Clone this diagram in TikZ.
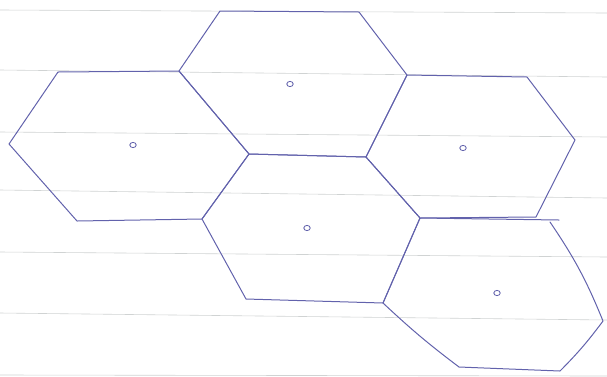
\documentclass[tikz,border=0pt]{standalone}
\definecolor{penblue}{RGB}{98,98,172}
\definecolor{rulegray}{RGB}{208,211,211}
\tikzset{
  pen/.style={draw=penblue, line width=1pt, line join=round, line cap=round},
  ruling/.style={draw=rulegray, line width=0.6pt},
  centredot/.style={draw=penblue, line width=0.8pt}
}

\begin{document}
\begin{tikzpicture}[x=1pt, y=-1pt]
  \useasboundingbox (0,0) rectangle (607,376);

  % ruled paper
  \foreach \yl/\yr in {10/13, 70/77, 132/137, 190/198, 252/257, 313/320, 375/376}
    \draw[ruling] (0,\yl) -- (607,\yr);

  % shared corners
  \coordinate (ab) at (179,71);
  \coordinate (bc) at (407,75);
  \coordinate (abd) at (249,154);
  \coordinate (bcd) at (366,157);
  \coordinate (ad) at (202,219);
  \coordinate (cde) at (420,218);
  \coordinate (de) at (383,303);

  % left cell
  \draw[pen] (58,72) -- (ab) -- (abd) -- (ad) -- (77,221) -- (9,144) -- cycle;
  % top cell
  \draw[pen] (220,11) -- (359,12) -- (bc) -- (bcd) -- (abd) -- (ab) -- cycle;
  % right cell
  \draw[pen] (bc) -- (527,77) -- (575,140) -- (536,217) -- (cde) -- (bcd) -- cycle;
  % middle cell
  \draw[pen] (abd) -- (bcd) -- (cde) -- (de) -- (246,299) -- (ad) -- cycle;
  % bottom right cell
  \draw[pen] (cde) -- (559,220) (550,222) to[bend left=6] (603,321)
    to[bend left=4] (560,371) -- (459,367) to[bend left=3] (de) -- (cde);

  % cell centres
  \foreach \cx/\cy/\cn in {133/145/ca, 290/84/cb, 463/148/cc, 307/228/cd, 497/293/ce}
    \draw[centredot] (\cx,\cy) ellipse (3.2pt and 2.6pt) coordinate (\cn);
\end{tikzpicture}
\end{document}
